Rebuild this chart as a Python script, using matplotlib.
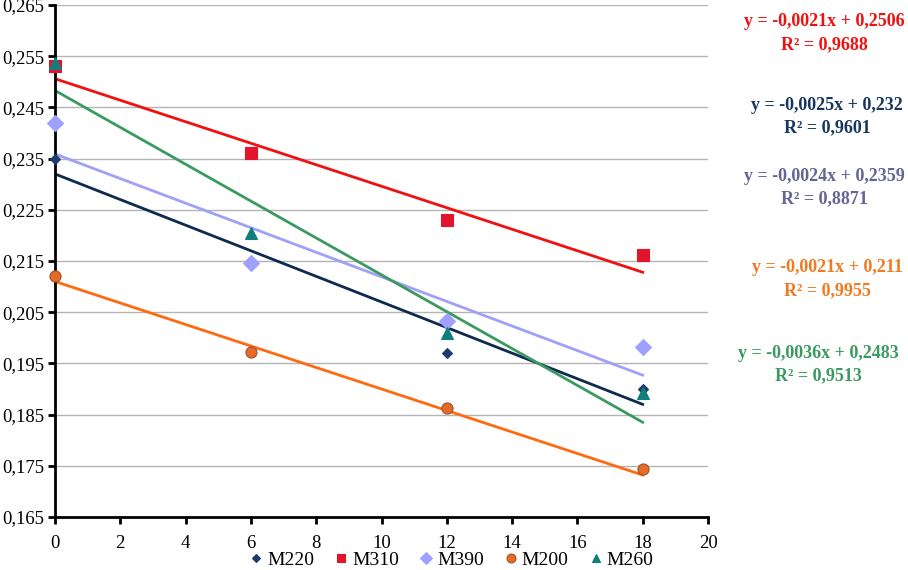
import numpy as np
import matplotlib.pyplot as plt
from matplotlib.ticker import FuncFormatter, MultipleLocator

plt.rcParams["font.family"] = ["Liberation Serif", "DejaVu Serif"]

x = [0, 6, 12, 18]
m220 = [0.235, 0.215, 0.197, 0.190]
m310 = [0.253, 0.2361, 0.2231, 0.2162]
m390 = [0.242, 0.2146, 0.2032, 0.1982]
m200 = [0.212, 0.1972, 0.1862, 0.1744]
m260 = [0.2537, 0.2205, 0.2009, 0.1892]

names = ["M220", "M310", "M390", "M200", "M260"]
series = [m220, m310, m390, m200, m260]
slopes = [-0.0025, -0.0021, -0.0024, -0.0021, -0.0036]
intercepts = [0.232, 0.2506, 0.2359, 0.211, 0.2483]
r2 = ["0,9601", "0,9688", "0,8871", "0,9955", "0,9513"]
eq_text = ["y = -0,0025x + 0,232", "y = -0,0021x + 0,2506", "y = -0,0024x + 0,2359",
           "y = -0,0021x + 0,211", "y = -0,0036x + 0,2483"]

markers = ["D", "s", "D", "o", "^"]
msizes = [5, 8, 8, 8, 8]
mcolors = ["#1f3a6e", "#e3132c", "#a0a0ff", "#e46c2a", "#0f7f7a"]
medges = ["#1f3a6e", "#e3132c", "#a0a0ff", "#a5502a", "#0f7f7a"]
lcolors = ["#0f2a4f", "#f01010", "#a0a0f5", "#ff6a10", "#3a9a60"]
tcolors = ["#17375e", "#f01010", "#646496", "#f07a20", "#3a9a60"]
# label centres in figure pixels (x, y of the first line)
label_pos = [(827, 105), (824, 22), (824, 176), (827, 268), (818, 353)]

fig = plt.figure(figsize=(9.08, 5.70), dpi=100)
ax = fig.add_axes([55 / 908, 1 - 517 / 570, (708 - 55) / 908, 512 / 570])

xs = np.array([0, 18])
for i in range(5):
    ax.plot(xs, slopes[i] * xs + intercepts[i], color=lcolors[i], lw=2, zorder=2)

for i in range(5):
    ax.plot(x, series[i], linestyle="none", marker=markers[i], ms=msizes[i],
            color=mcolors[i], mec=medges[i], mew=0.8, label=names[i], zorder=3,
            clip_on=False)

ax.set_xlim(0, 20)
ax.set_ylim(0.165, 0.265)
ax.xaxis.set_major_locator(MultipleLocator(2))
ax.set_yticks(np.arange(0.165, 0.2651, 0.01))
ax.yaxis.set_major_formatter(FuncFormatter(lambda v, p: f"{v:.3f}".replace(".", ",")))
ax.grid(axis="y", color="#b4b4b4", lw=1)
ax.set_axisbelow(True)
for s in ["top", "right"]:
    ax.spines[s].set_visible(False)
for s in ["left", "bottom"]:
    ax.spines[s].set_linewidth(2)
ax.tick_params(axis="both", direction="out", width=2, length=5, labelsize=13.5)
ax.tick_params(axis="y", pad=3)
ax.tick_params(axis="x", pad=8)

for i in range(5):
    px, py = label_pos[i]
    fig.text(px / 908, 1 - py / 570, eq_text[i], color=tcolors[i], fontsize=13,
             fontweight="bold", ha="center", va="center")
    fig.text(px / 908, 1 - (py + 23) / 570, "R² = " + r2[i], color=tcolors[i],
             fontsize=13, fontweight="bold", ha="center", va="center")

ax.legend(loc="center", bbox_to_anchor=(450 / 908, 1 - 560 / 570),
          bbox_transform=fig.transFigure, ncol=5, frameon=False, fontsize=14,
          handletextpad=0.05, columnspacing=0.9, handlelength=1.0, borderpad=0,
          markerscale=0.8)

plt.savefig("out.png", dpi=100)
